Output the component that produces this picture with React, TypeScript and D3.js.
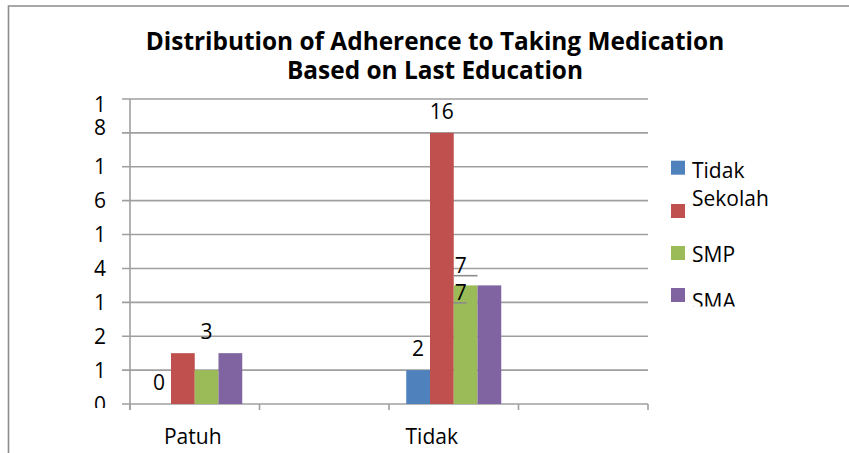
import React, { useRef, useEffect } from "react";
import * as d3 from "d3";

// chart data
const categories = ["Patuh", "", "Tidak", ""];
const seriesNames = ["Tidak", "Sekolah", "SMP", "SMA"];
const seriesColors = ["#4f81bd", "#c0504d", "#9bbb59", "#8064a2"];
const tidakSekolah = [0, null, 2, null];
const sekolah = [3, null, 16, null];
const smp = [2, null, 7, null];
const sma = [3, null, 7, null];
const yTicks = [0, 2, 4, 6, 8, 10, 12, 14, 16, 18];
const yTickText = ["0", "1", "2", "1", "4", "1", "6", "1", "8", "1"];
// which bar labels are visible ("" = hidden)
const shownLabels = [
  ["0", "", "2", ""],
  ["3", "", "16", ""],
  ["", "", "7", ""],
  ["", "", "7", ""],
];

const W = 849;
const H = 453;
const FONT = "'Open Sans', sans-serif";

const App: React.FC = () => {
  const svgRef = useRef<SVGSVGElement>(null);

  useEffect(() => {
    if (!svgRef.current) return;
    const svg = d3.select(svgRef.current);
    svg.selectAll("*").remove();

    const values = [tidakSekolah, sekolah, smp, sma];
    const left = 130;
    const right = 648;
    const top = 99;
    const bottom = 404;

    const x0 = d3.scaleBand().domain(categories.map((_, i) => String(i))).range([left, right]);
    const groupW = 95;
    const x1 = d3
      .scaleBand()
      .domain(seriesNames)
      .range([(x0.bandwidth() - groupW) / 2, (x0.bandwidth() + groupW) / 2]);
    const y = d3.scaleLinear().domain([0, 18]).range([bottom, top]);

    const defs = svg.append("defs");
    defs.append("clipPath").attr("id", "ylab").append("rect").attr("x", 0).attr("y", 0).attr("width", 125).attr("height", 408);
    defs.append("clipPath").attr("id", "leg").append("rect").attr("x", 650).attr("y", 0).attr("width", 199).attr("height", 306.5);

    // outer frame
    svg.append("path")
      .attr("d", `M${W},6H8.5V${H}`)
      .attr("fill", "none")
      .attr("stroke", "#8c8c8c")
      .attr("stroke-width", 1.6);

    // title
    const title = svg.append("text")
      .attr("text-anchor", "middle")
      .attr("font-family", FONT)
      .attr("font-weight", "bold")
      .attr("font-size", 24.4)
      .attr("fill", "#000");
    title.append("tspan").attr("x", 435).attr("y", 49.5).text("Distribution of Adherence to Taking Medication");
    title.append("tspan").attr("x", 435).attr("y", 78.5).text("Based on Last Education");

    // gridlines + y ticks
    svg.append("g")
      .selectAll("line")
      .data(yTicks)
      .join("line")
      .attr("x1", left - 8)
      .attr("x2", right)
      .attr("y1", (d) => y(d))
      .attr("y2", (d) => y(d))
      .attr("stroke", "#9f9f9f")
      .attr("stroke-width", 1.6);

    // y axis line
    svg.append("line")
      .attr("x1", left).attr("x2", left)
      .attr("y1", top).attr("y2", bottom + 6)
      .attr("stroke", "#9f9f9f")
      .attr("stroke-width", 1.6);

    // x ticks at band edges
    const edges = categories.map((_, i) => x0(String(i)) as number).concat([right]);
    svg.append("g")
      .selectAll("line")
      .data(edges)
      .join("line")
      .attr("x1", (d) => d).attr("x2", (d) => d)
      .attr("y1", bottom).attr("y2", bottom + 6)
      .attr("stroke", "#9f9f9f")
      .attr("stroke-width", 1.6);

    // y labels (wrapped oddly in the original)
    const yShift = (i: number) => (i === 9 ? 5 : i === 8 ? -5 : 0);
    svg.append("g")
      .attr("clip-path", "url(#ylab)")
      .selectAll("text")
      .data(yTicks)
      .join("text")
      .attr("x", 106)
      .attr("y", (d, i) => y(d) + 7.5 + yShift(i))
      .attr("text-anchor", "end")
      .attr("font-family", FONT)
      .attr("font-size", 21)
      .text((d, i) => yTickText[i]);

    // x labels
    const xLabelShift = [-2, 0, -22, 0];
    svg.append("g")
      .selectAll("text")
      .data(categories)
      .join("text")
      .attr("x", (d, i) => (x0(String(i)) as number) + x0.bandwidth() / 2 + xLabelShift[i])
      .attr("y", 444)
      .attr("text-anchor", "middle")
      .attr("font-family", FONT)
      .attr("font-size", 21)
      .text((d) => d);

    // bars
    const bars = svg.append("g");
    values.forEach((vals, s) => {
      bars.append("g")
        .selectAll("rect")
        .data(vals.map((v, c) => ({ v, c })).filter((d) => d.v !== null && (d.v as number) > 0))
        .join("rect")
        .attr("x", (d) => (x0(String(d.c)) as number) + (x1(seriesNames[s]) as number))
        .attr("y", (d) => y(d.v as number))
        .attr("width", x1.bandwidth())
        .attr("height", (d) => bottom - y(d.v as number))
        .attr("fill", seriesColors[s]);
    });

    // data labels
    const labels = svg.append("g")
      .attr("font-family", FONT)
      .attr("font-size", 21)
      .attr("fill", "#000");
    values.forEach((vals, s) => {
      vals.forEach((v, c) => {
        const txt = shownLabels[s][c];
        if (!txt || v === null) return;
        const bx = (x0(String(c)) as number) + (x1(seriesNames[s]) as number);
        const bw = x1.bandwidth();
        const by = y(v);
        if (s === 2 && c === 2) {
          // moved label, drawn inside the bar top with a leader
          labels.append("text").attr("x", bx + 1).attr("y", by + 15).text(txt);
          labels.append("line")
            .attr("x1", bx).attr("x2", bx + 13)
            .attr("y1", by + 17.5).attr("y2", by + 17.5)
            .attr("stroke", "#8c8c8c").attr("stroke-width", 1.6);
        } else if (s === 3 && c === 2) {
          const gx = bx - bw;
          labels.append("text").attr("x", gx + 1).attr("y", by - 12.5).text(txt);
          labels.append("line")
            .attr("x1", gx).attr("x2", gx + bw)
            .attr("y1", by - 9.7).attr("y2", by - 9.7)
            .attr("stroke", "#8c8c8c").attr("stroke-width", 1.6);
        } else {
          const shift = s === 1 && c === 0 ? bw : 0;
          labels.append("text")
            .attr("x", bx + bw / 2 + shift)
            .attr("y", by - 14)
            .attr("text-anchor", "middle")
            .text(txt);
        }
      });
    });

    // legend
    const legend = svg.append("g").attr("clip-path", "url(#leg)");
    const legTop = [160.7, 204, 246, 288];
    const legTextDy = [17.5, 1.7, 16.3, 20.5];
    seriesNames.forEach((name, i) => {
      legend.append("rect")
        .attr("x", 671).attr("y", legTop[i])
        .attr("width", 14).attr("height", 14)
        .attr("fill", seriesColors[i]);
      legend.append("text")
        .attr("x", 692).attr("y", legTop[i] + legTextDy[i])
        .attr("font-family", FONT)
        .attr("font-size", 21)
        .text(name);
    });
  }, []);

  return (
    <svg
      ref={svgRef}
      width={W}
      height={H}
      style={{ position: "absolute", left: 0, top: 0, background: "#fff" }}
    />
  );
};

export default App;
